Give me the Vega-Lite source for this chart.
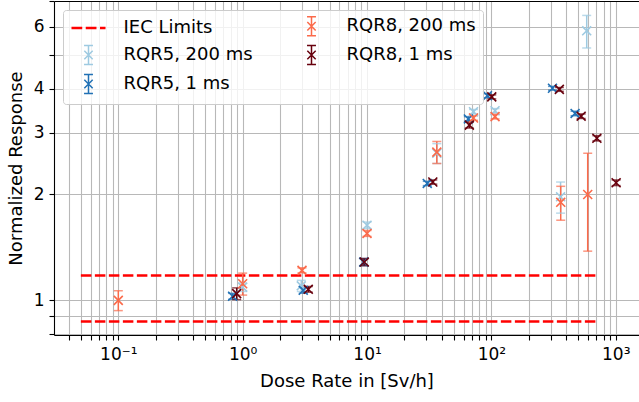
{
  "$schema": "https://vega.github.io/schema/vega-lite/v6.json",
  "width": 585,
  "height": 334,
  "autosize": {"type": "none"},
  "padding": {"left": 54, "top": 1, "right": 0, "bottom": 67},
  "background": "white",
  "config": {
    "view": {"stroke": null},
    "font": "DejaVu Sans",
    "axis": {
      "labelFont": "DejaVu Sans",
      "titleFont": "DejaVu Sans",
      "labelFontSize": 17,
      "titleFontSize": 18,
      "titleFontWeight": "normal",
      "labelColor": "black",
      "titleColor": "black",
      "domainColor": "black",
      "domainWidth": 1.1,
      "tickColor": "black",
      "tickWidth": 1.1,
      "tickSize": 5,
      "gridColor": "#b8b8b8",
      "gridWidth": 1.1,
      "labelOverlap": false,
      "labelBound": false,
      "labelFlush": false
    }
  },
  "datasets": {
    "iec": [
      {"series": "IEC Limits", "x": 0.05, "x2": 700, "y": 1.176},
      {"series": "IEC Limits", "x": 0.05, "x2": 700, "y": 0.870}
    ],
    "pts": [
      {"series": "RQR5, 200 ms", "x": 1.0, "y": 1.09, "ylo": 1.06, "yhi": 1.12},
      {"series": "RQR5, 200 ms", "x": 2.96, "y": 1.10, "ylo": 1.06, "yhi": 1.14},
      {"series": "RQR5, 200 ms", "x": 10.0, "y": 1.636, "ylo": 1.60, "yhi": 1.67},
      {"series": "RQR5, 200 ms", "x": 36.4, "y": 2.62, "ylo": 2.45, "yhi": 2.79},
      {"series": "RQR5, 200 ms", "x": 71.8, "y": 3.44, "ylo": 3.39, "yhi": 3.49},
      {"series": "RQR5, 200 ms", "x": 107, "y": 3.46, "ylo": 3.41, "yhi": 3.51},
      {"series": "RQR5, 200 ms", "x": 360, "y": 1.97, "ylo": 1.77, "yhi": 2.17},
      {"series": "RQR5, 200 ms", "x": 584, "y": 5.84, "ylo": 5.22, "yhi": 6.46},
      {"series": "RQR5, 1 ms", "x": 0.83, "y": 1.027, "ylo": 1.007, "yhi": 1.047},
      {"series": "RQR5, 1 ms", "x": 3.07, "y": 1.068, "ylo": 1.048, "yhi": 1.088},
      {"series": "RQR5, 1 ms", "x": 9.4, "y": 1.285, "ylo": 1.255, "yhi": 1.315},
      {"series": "RQR5, 1 ms", "x": 30.5, "y": 2.15, "ylo": 2.12, "yhi": 2.18},
      {"series": "RQR5, 1 ms", "x": 65.3, "y": 3.28, "ylo": 3.23, "yhi": 3.33},
      {"series": "RQR5, 1 ms", "x": 92.9, "y": 3.82, "ylo": 3.77, "yhi": 3.87},
      {"series": "RQR5, 1 ms", "x": 310, "y": 4.01, "ylo": 3.96, "yhi": 4.06},
      {"series": "RQR5, 1 ms", "x": 471, "y": 3.40, "ylo": 3.35, "yhi": 3.45},
      {"series": "RQR8, 200 ms", "x": 0.1, "y": 1.0, "ylo": 0.935, "yhi": 1.065},
      {"series": "RQR8, 200 ms", "x": 1.0, "y": 1.115, "ylo": 1.035, "yhi": 1.195},
      {"series": "RQR8, 200 ms", "x": 3.0, "y": 1.217, "ylo": 1.197, "yhi": 1.237},
      {"series": "RQR8, 200 ms", "x": 10.0, "y": 1.55, "ylo": 1.52, "yhi": 1.58},
      {"series": "RQR8, 200 ms", "x": 36.4, "y": 2.64, "ylo": 2.45, "yhi": 2.83},
      {"series": "RQR8, 200 ms", "x": 71.8, "y": 3.30, "ylo": 3.25, "yhi": 3.35},
      {"series": "RQR8, 200 ms", "x": 107, "y": 3.33, "ylo": 3.28, "yhi": 3.38},
      {"series": "RQR8, 200 ms", "x": 361, "y": 1.90, "ylo": 1.69, "yhi": 2.11},
      {"series": "RQR8, 200 ms", "x": 595, "y": 2.0, "ylo": 1.38, "yhi": 2.62},
      {"series": "RQR8, 1 ms", "x": 0.895, "y": 1.045, "ylo": 1.005, "yhi": 1.085},
      {"series": "RQR8, 1 ms", "x": 3.37, "y": 1.075, "ylo": 1.055, "yhi": 1.095},
      {"series": "RQR8, 1 ms", "x": 9.5, "y": 1.285, "ylo": 1.255, "yhi": 1.315},
      {"series": "RQR8, 1 ms", "x": 33.8, "y": 2.17, "ylo": 2.14, "yhi": 2.20},
      {"series": "RQR8, 1 ms", "x": 66.5, "y": 3.15, "ylo": 3.09, "yhi": 3.21},
      {"series": "RQR8, 1 ms", "x": 100.7, "y": 3.79, "ylo": 3.74, "yhi": 3.84},
      {"series": "RQR8, 1 ms", "x": 352, "y": 3.98, "ylo": 3.93, "yhi": 4.03},
      {"series": "RQR8, 1 ms", "x": 527, "y": 3.34, "ylo": 3.29, "yhi": 3.39},
      {"series": "RQR8, 1 ms", "x": 705, "y": 2.89, "ylo": 2.84, "yhi": 2.94},
      {"series": "RQR8, 1 ms", "x": 1007, "y": 2.16, "ylo": 2.12, "yhi": 2.20}
    ]
  },
  "encoding": {
    "color": {
      "field": "series",
      "type": "nominal",
      "scale": {
        "domain": ["IEC Limits", "RQR5, 200 ms", "RQR5, 1 ms", "RQR8, 200 ms", "RQR8, 1 ms"],
        "range": ["#ff0000", "#9ecae1", "#2171b5", "#fb6a4a", "#67000d"]
      },
      "legend": {
        "title": null,
        "orient": "none",
        "legendX": 9,
        "legendY": 9,
        "columns": 2,
        "columnPadding": 40,
        "rowPadding": 3,
        "padding": 7,
        "symbolSize": 361,
        "symbolOffset": 9.5,
        "labelOffset": 26,
        "labelFont": "DejaVu Sans",
        "labelFontSize": 18,
        "labelColor": "black",
        "strokeColor": "#cccccc",
        "fillColor": "rgba(255,255,255,0.8)",
        "cornerRadius": 3,
        "encode": {
          "symbols": {
            "update": {
              "shape": {"signal": "datum.value === 'IEC Limits' ? 'M-1.79,0H-0.66M-0.29,0H0.84M1.21,0H1.79' : 'M-0.47,-1H0.47M0,-1V1M-0.47,1H0.47M-0.44,-0.44L0.44,0.44M-0.44,0.44L0.44,-0.44'"},
              "fill": {"value": "transparent"},
              "stroke": {"scale": "color", "field": "value"},
              "strokeWidth": {"signal": "datum.value === 'IEC Limits' ? 2.5 : 1.5"},
              "opacity": {"value": 1}
            }
          }
        }
      }
    }
  },
  "layer": [
    {
      "data": {"name": "iec"},
      "mark": {"type": "rule", "strokeDash": [10.5, 3.5], "strokeWidth": 2.5},
      "encoding": {
        "x": {
          "field": "x", "type": "quantitative",
          "scale": {"type": "log", "domain": [0.0304, 1538], "nice": false, "zero": false},
          "axis": {
            "title": "Dose Rate in [Sv/h]",
            "values": [0.04,0.05,0.06,0.07,0.08,0.09,0.1,0.2,0.3,0.4,0.5,0.6,0.7,0.8,0.9,1,2,3,4,5,6,7,8,9,10,20,30,40,50,60,70,80,90,100,200,300,400,500,600,700,800,900,1000],
            "labelExpr": "datum.value == 0.1 ? '10⁻¹' : datum.value == 1 ? '10⁰' : datum.value == 10 ? '10¹' : datum.value == 100 ? '10²' : datum.value == 1000 ? '10³' : ''",
            "labelPadding": 6,
            "titlePadding": 10,
            "grid": true
          }
        },
        "x2": {"field": "x2"},
        "y": {
          "field": "y", "type": "quantitative",
          "scale": {"type": "log", "domain": [0.797, 7.1], "nice": false, "zero": false},
          "axis": {
            "title": "Normalized Response",
            "values": [0.8, 0.9, 1, 2, 3, 4, 5, 6, 7.1],
            "labelExpr": "(datum.value == 1 || datum.value == 2 || datum.value == 3 || datum.value == 4 || datum.value == 6) ? format(datum.value, 'd') : ''",
            "labelPadding": 5,
            "titlePadding": 8,
            "grid": true,
            "gridColor": {"condition": {"test": "datum.value > 7", "value": "black"}, "value": "#b8b8b8"}
          }
        }
      }
    },
    {
      "data": {"name": "pts"},
      "mark": {"type": "rule", "strokeWidth": 1.5},
      "encoding": {
        "x": {"field": "x", "type": "quantitative"},
        "y": {"field": "ylo", "type": "quantitative"},
        "y2": {"field": "yhi"}
      }
    },
    {
      "data": {"name": "pts"},
      "mark": {"type": "tick", "orient": "horizontal", "size": 9, "thickness": 1.5},
      "encoding": {
        "x": {"field": "x", "type": "quantitative"},
        "y": {"field": "ylo", "type": "quantitative"}
      }
    },
    {
      "data": {"name": "pts"},
      "mark": {"type": "tick", "orient": "horizontal", "size": 9, "thickness": 1.5},
      "encoding": {
        "x": {"field": "x", "type": "quantitative"},
        "y": {"field": "yhi", "type": "quantitative"}
      }
    },
    {
      "data": {"name": "pts"},
      "mark": {"type": "point", "shape": "M-1,-1L1,1M-1,1L1,-1", "filled": false, "size": 80, "strokeWidth": 1.6, "opacity": 1},
      "encoding": {
        "x": {"field": "x", "type": "quantitative"},
        "y": {"field": "y", "type": "quantitative"}
      }
    }
  ]
}
